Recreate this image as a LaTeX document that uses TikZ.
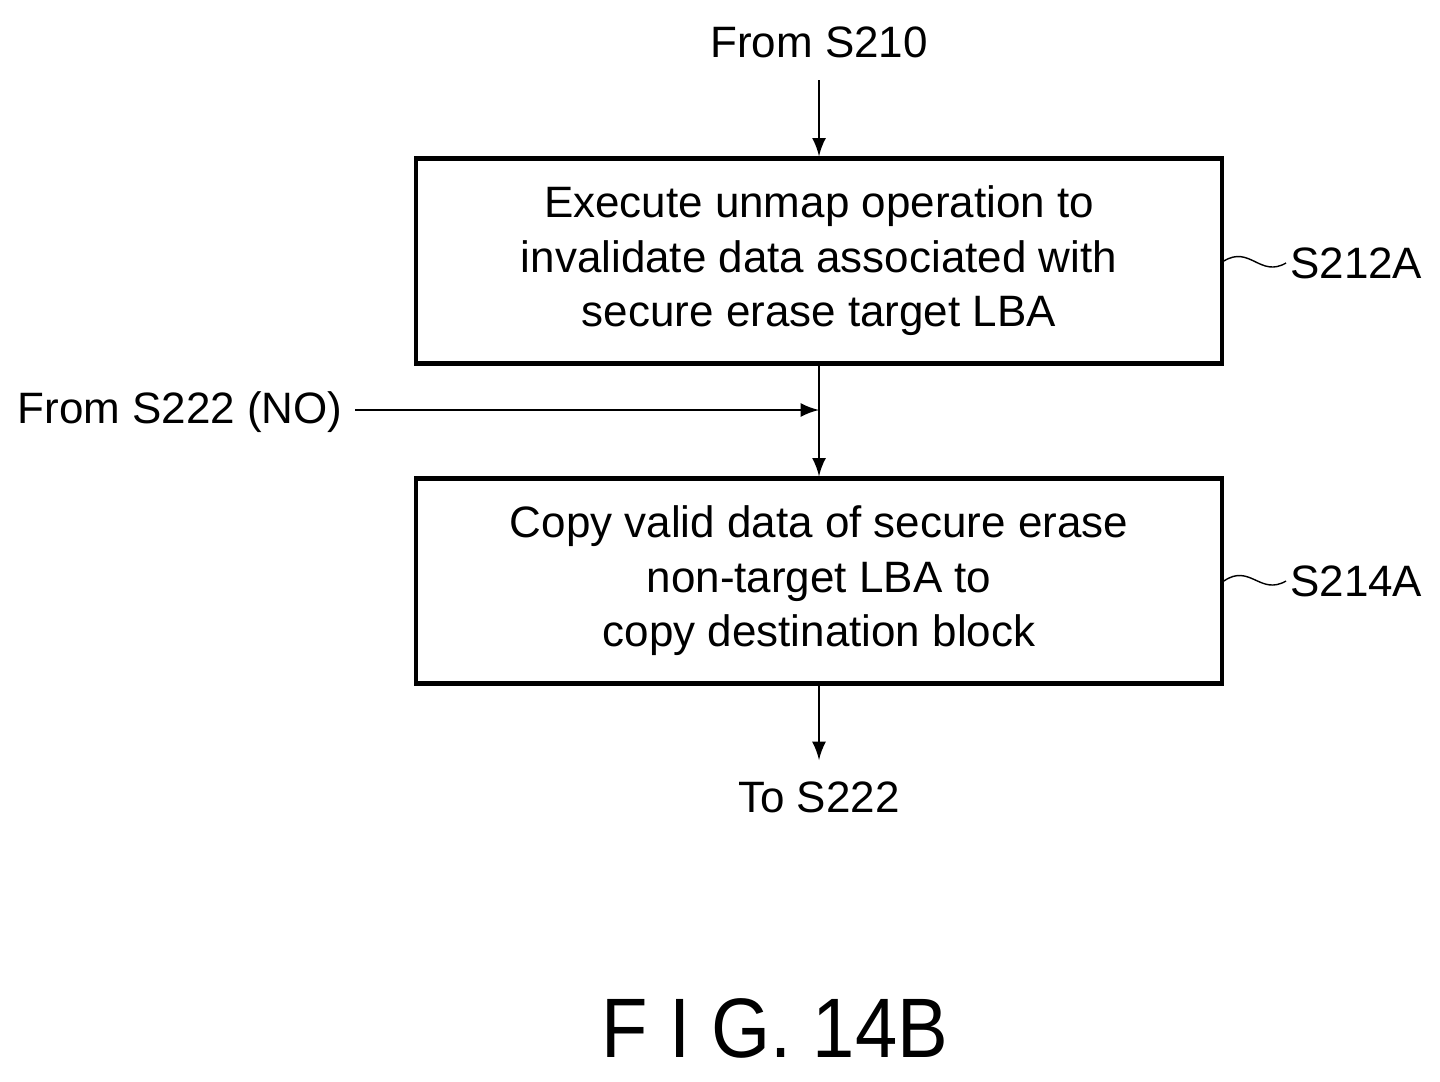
\documentclass[tikz,border=0pt]{standalone}
\usepackage{fontspec}
\setmainfont{Liberation Sans}
\begin{document}
\begin{tikzpicture}[x=0.01cm, y=-0.01cm,
    box/.style = {draw, line width=1.2pt, minimum width=8.05cm, minimum height=2.05cm,
                  align=center, font=\fontsize{12.5}{15.5}\selectfont},
    txt/.style = {font=\fontsize{12.5}{15}\selectfont},
    arr/.style = {->, >=latex, line width=0.8pt}]
  \useasboundingbox (0, 0) rectangle (1440, 1081);

  \node [txt] (from210) at (819, 42) {From S210};
  \node [box] (s212) at (819, 261) {Execute unmap operation to\\invalidate data associated with\\secure erase target LBA};
  \node [box] (s214) at (819, 581) {Copy valid data of secure erase\\non-target LBA to\\copy destination block};
  \node [txt] (from222) at (180, 412) {From S222 (NO)};
  \node [txt] (to222) at (819, 797) {To S222};
  \node [txt, anchor=west, inner sep=1pt] (l212) at (1286, 263) {S212A};
  \node [txt, anchor=west, inner sep=1pt] (l214) at (1286, 581) {S214A};
  \node [font=\fontsize{24}{24}\selectfont, xscale=0.9] (fig) at (775, 1028) {F I G. 14B};
  \coordinate (join) at (819, 410);

  \draw [arr] (819, 80) -- (s212);
  \draw [arr] (s212) -- (s214);
  \draw [arr] (355, 410) -- (join);
  \draw [arr] (s214) -- (819, 760);
  \draw (s212.east) .. controls (1250, 245) and (1260, 278) .. (l212.west);
  \draw (s214.east) .. controls (1250, 563) and (1260, 596) .. (l214.west);
\end{tikzpicture}
\end{document}
